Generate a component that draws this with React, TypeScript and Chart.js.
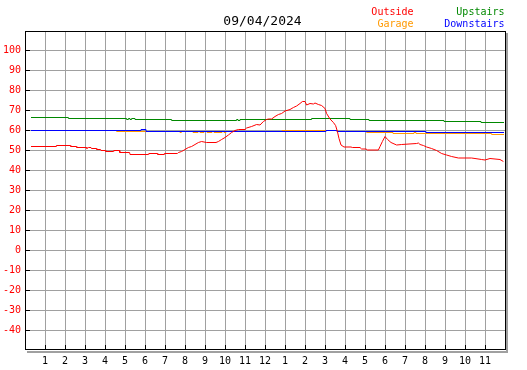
import React, { useEffect, useRef } from 'react';
import { Chart, registerables } from 'chart.js';

Chart.register(...registerables);

const chartTitle = '09/04/2024';
const hourLabels = ['1', '2', '3', '4', '5', '6', '7', '8', '9', '10', '11', '12', '1', '2', '3', '4', '5', '6', '7', '8', '9', '10', '11'];
const yTickMin = -40;
const yTickMax = 100;

const outsideHours = [
  0.3, 1.55, 1.57, 2.27, 2.29, 2.57, 2.59, 3.07, 3.09, 3.17, 3.3, 3.32, 3.57, 3.59, 3.78, 3.8, 4.02, 4.04, 4.42, 4.44,
  4.72, 4.74, 5.23, 5.25, 6.17, 6.19, 6.62, 6.64, 6.95, 6.97, 7.62, 7.67, 7.83, 8.0, 8.17, 8.33, 8.5, 8.67, 8.83, 9.08,
  9.55, 9.67, 9.83, 10.0, 10.17, 10.33, 10.5, 10.67, 11.0, 11.08, 11.33, 11.58, 11.75, 11.92, 12.08, 12.17, 12.33, 12.5,
  12.67, 12.83, 13.0, 13.25, 13.42, 13.58, 13.75, 13.87, 14.0, 14.08, 14.25, 14.42, 14.5, 14.67, 14.83, 15.0, 15.08,
  15.25, 15.42, 15.53, 15.62, 15.7, 15.8, 15.95, 16.3, 16.37, 16.75, 16.83, 17.05, 17.13, 17.67, 17.75, 17.87, 18.0,
  18.13, 18.3, 18.58, 18.83, 19.58, 19.67, 19.75, 19.92, 20.08, 20.33, 20.58, 20.83, 21.08, 21.33, 21.67, 22.33, 22.5,
  22.83, 23.0, 23.25, 23.5, 23.75, 23.92,
];
const outsideTemps = [
  51.75, 51.75, 52.25, 52.25, 51.75, 51.75, 51.25, 51.25, 50.75, 51.25, 51.25, 50.75, 50.75, 50.25, 50.25, 49.75, 49.75,
  49.25, 49.25, 49.75, 49.75, 48.75, 48.75, 47.75, 47.75, 48.25, 48.25, 47.75, 47.75, 48.25, 48.25, 48.75, 49.25, 50.25,
  51.25, 51.75, 52.75, 53.75, 54.25, 53.75, 53.75, 54.25, 55.25, 56.25, 57.5, 58.75, 59.75, 60.25, 60.25, 61, 61.75,
  62.75, 62.5, 64.25, 65.25, 65.5, 65.5, 66.75, 67.75, 68.25, 69.5, 70.25, 71.25, 72, 73.25, 74.25, 74.25, 72.5, 73.25,
  73, 73.5, 72.75, 72.25, 70.75, 68.25, 65.5, 63.75, 62.25, 59.25, 55.75, 52.5, 51.5, 51.5, 51.25, 51.25, 50.5, 50.5, 50,
  50, 51.75, 54.25, 56.75, 55.25, 53.75, 52.5, 52.75, 53.25, 53.5, 52.75, 52.25, 51.5, 50.75, 49.75, 48.25, 47.5, 46.75,
  46, 46, 45.75, 45.25, 45, 45.75, 45.5, 45.25, 44.25,
];

const garageHours = [0.3, 4.58, 7.75, 7.82, 8.4, 8.65, 8.75, 8.95, 9.1, 9.35, 9.45, 9.85, 9.95, 10.05, 12.85, 15.6, 17.08, 18.4, 19.45, 19.55, 23.33, 23.95];
const garageTemps = [59.75, 59.25, 58.75, 59.25, 58.75, 59.25, 58.75, 59.25, 58.75, 59.25, 58.75, 59.25, 58.75, 59.25, 59.75, 59.25, 58.75, 58.25, 58.75, 58.25, 57.75, 57.75];

const upstairsHours = [0.3, 2.17, 5.08, 5.17, 5.25, 5.33, 5.5, 7.33, 10.58, 10.65, 10.75, 14.33, 16.25, 17.2, 20.95, 22.8, 23.95];
const upstairsTemps = [66.25, 65.75, 65.25, 65.75, 65.25, 65.75, 65.25, 64.75, 65.25, 64.75, 65.25, 65.75, 65.25, 64.75, 64.25, 63.75, 63.75];

const downstairsHours = [0.3, 5.8, 6.05, 15.05, 15.6, 20.05, 23.95];
const downstairsTemps = [59.75, 60.25, 59.25, 59.75, 59.25, 58.75, 58.75];

const seriesNames = ['Outside', 'Garage', 'Upstairs', 'Downstairs'];
const seriesColors = ['#ff0000', '#ff9900', '#008800', '#0000ff'];

const GRID = '#a0a0a0';
const MONO = '"DejaVu Sans Mono", "Liberation Mono", monospace';

const toPoints = (hs: number[], vs: number[]) => hs.map((h, i) => ({ x: h, y: vs[i] }));

const framePlugin = {
  id: 'frameDecor',
  afterDraw(chart: any) {
    const ctx = chart.ctx as CanvasRenderingContext2D;
    const { left, right, top, bottom } = chart.chartArea;
    const L = Math.round(left), R = Math.round(right), T = Math.round(top), B = Math.round(bottom);
    ctx.save();
    // clear row above frame
    ctx.fillStyle = '#ffffff';
    ctx.fillRect(L, T, R - L + 1, 1);
    // shadow
    ctx.fillStyle = GRID;
    ctx.fillRect(R + 1, T + 3, 2, B - T);
    ctx.fillRect(L + 2, B + 1, R - L + 1, 2);
    // frame
    ctx.fillStyle = '#000000';
    ctx.fillRect(L, T + 1, R - L + 1, 1);
    ctx.fillRect(L, B - 1, R - L + 1, 1);
    ctx.fillRect(L, T + 1, 1, B - T - 1);
    ctx.fillRect(R, T + 1, 1, B - T - 1);
    // inner ticks
    const ys = chart.scales.y, xs = chart.scales.x;
    for (let v = yTickMin; v <= yTickMax; v += 10) {
      const py = Math.floor(ys.getPixelForValue(v));
      ctx.fillRect(L + 1, py, 4, 1);
    }
    for (let h = 1; h <= hourLabels.length; h++) {
      const px = Math.floor(xs.getPixelForValue(h));
      ctx.fillRect(px, B - 5, 1, 4);
    }
    // title
    ctx.textBaseline = 'alphabetic';
    ctx.font = '13px ' + MONO;
    ctx.textAlign = 'center';
    ctx.fillStyle = '#000000';
    ctx.fillText(chartTitle, 262.5, 25);
    // legend
    ctx.font = '10px ' + MONO;
    ctx.textAlign = 'right';
    const pos = [
      [413.5, 15],
      [413.5, 27],
      [504.5, 15],
      [504.5, 27],
    ];
    seriesNames.forEach((n, i) => {
      ctx.fillStyle = seriesColors[i];
      ctx.fillText(n, pos[i][0], pos[i][1]);
    });
    ctx.restore();
  },
};

export default function App() {
  const ref = useRef<HTMLCanvasElement | null>(null);

  useEffect(() => {
    if (!ref.current) return;
    const line = (idx: number, hs: number[], vs: number[], stepped: any) => ({
      label: seriesNames[idx],
      data: toPoints(hs, vs),
      borderColor: seriesColors[idx],
      backgroundColor: seriesColors[idx],
      borderWidth: 1,
      pointRadius: 0,
      pointHoverRadius: 0,
      tension: 0,
      fill: false,
      stepped,
    });
    const chart = new Chart(ref.current, {
      type: 'line',
      data: {
        datasets: [
          line(0, outsideHours, outsideTemps, false),
          line(3, downstairsHours, downstairsTemps, 'before'),
          line(1, garageHours, garageTemps, 'before'),
          line(2, upstairsHours, upstairsTemps, 'before'),
        ],
      },
      options: {
        responsive: false,
        animation: false,
        devicePixelRatio: 1,
        events: [],
        layout: { padding: { top: 30, right: 22, left: 0, bottom: 0 }, autoPadding: false },
        plugins: {
          legend: { display: false },
          title: { display: false },
          tooltip: { enabled: false },
        },
        scales: {
          x: {
            type: 'linear',
            min: 0,
            max: 24,
            afterFit: (s: any) => {
              s.height = 20;
            },
            border: { display: false },
            grid: { color: GRID, lineWidth: 1, drawTicks: false },
            ticks: {
              stepSize: 1,
              autoSkip: false,
              maxRotation: 0,
              minRotation: 0,
              padding: 5,
              color: '#000000',
              font: { family: MONO, size: 10 },
              callback: (v: any) => {
                const n = Math.round(Number(v));
                return n >= 1 && n <= hourLabels.length ? hourLabels[n - 1] : null;
              },
            },
          },
          y: {
            type: 'linear',
            min: -50,
            max: 110,
            afterFit: (s: any) => {
              s.width = 25;
            },
            border: { display: false },
            grid: { color: GRID, lineWidth: 1, drawTicks: false },
            ticks: {
              stepSize: 10,
              padding: 4,
              color: '#ff0000',
              font: { family: MONO, size: 10 },
              callback: (v: any) => {
                const n = Math.round(Number(v));
                return n >= yTickMin && n <= yTickMax ? String(n) : null;
              },
            },
          },
        },
      },
      plugins: [framePlugin],
    } as any);
    return () => chart.destroy();
  }, []);

  return (
    <div style={{ position: 'absolute', left: 0, top: 0, width: 527, height: 370, background: '#fff' }}>
      <canvas ref={ref} width={527} height={370} style={{ display: 'block', width: 527, height: 370 }} />
    </div>
  );
}
